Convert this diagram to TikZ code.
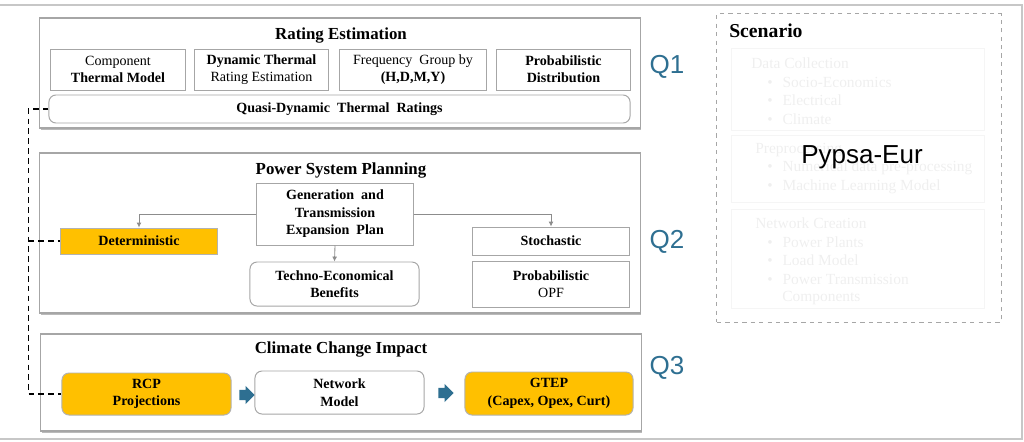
\documentclass[tikz,border=0pt]{standalone}
\usepackage{fontspec}
\setmainfont{Liberation Serif}
\newfontfamily\qfont{Liberation Sans}
\usepackage{tikz}
\usetikzlibrary{arrows.meta, positioning, shapes.arrows, shadows}

\definecolor{qblue}{HTML}{2E6F91}
\definecolor{amber}{HTML}{FFC000}
\definecolor{boxgray}{HTML}{A6A6A6}
\definecolor{faint}{HTML}{EFEFEF}

\tikzset{
  mainbox/.style={draw=boxgray, fill=white, line width=0.8pt, minimum width=15cm,
    drop shadow={shadow xshift=0.7pt, shadow yshift=-1.2pt, fill=black!45, opacity=0.6}},
  subbox/.style={draw=boxgray, fill=white, line width=0.7pt, align=center,
    font=\fontsize{10}{12.2}\selectfont, inner sep=1pt},
  roundbox/.style={subbox, rounded corners=5pt},
  orangebox/.style={subbox, fill=amber, draw=black!30},
  title/.style={font=\fontsize{12}{14}\selectfont\bfseries},
  qlabel/.style={font=\qfont\fontsize{18.5}{20}\selectfont, text=qblue},
  blockarrow/.style={single arrow, fill=qblue, draw=none, inner sep=0.12cm,
    minimum height=0.38cm, single arrow head extend=0.1cm, single arrow head indent=0pt},
  link/.style={draw=black!45, line width=0.6pt, -{Latex[length=3.5pt,width=3.5pt]}},
  faintbox/.style={draw=faint!60, line width=0.6pt, minimum width=6.325cm},
  fainttext/.style={text=faint, font=\fontsize{11}{13}\selectfont, anchor=west, inner sep=0pt}
}

\begin{document}
\begin{tikzpicture}[x=0.025cm, y=-0.025cm]
  \useasboundingbox (0,0) rectangle (1024,441);
  \draw[black!22, line width=1pt] (0,5) -- (1022,5) -- (1022,439) -- (0,439);

  % Q1: rating estimation
  \node[mainbox, minimum height=2.75cm] (rating) at (340,73) {};
  \node[title] (ratingt) at (341,36) {Rating Estimation};
  \node[subbox, minimum width=3.35cm, minimum height=1.025cm] (comp) at (118,69.5) {Component\\\textbf{Thermal Model}};
  \node[subbox, minimum width=3.325cm, minimum height=1.025cm] (dtr) at (261.5,69.5) {\textbf{Dynamic Thermal}\\Rating Estimation};
  \node[subbox, minimum width=3.65cm, minimum height=1.025cm] (freq) at (413,69.5) {Frequency\ \ Group by\\\textbf{(H,D,M,Y)}};
  \node[subbox, minimum width=3.325cm, minimum height=1.025cm] (prob) at (563.5,69.5) {\textbf{Probabilistic}\\\textbf{Distribution}};
  \node[roundbox, minimum width=14.525cm, minimum height=0.7cm] (qdtr) at (339.5,109) {\textbf{Quasi-Dynamic\ \ Thermal\ \ Ratings}};

  % Q2: planning
  \node[mainbox, minimum height=4cm] (plan) at (340,233) {};
  \node[title] (plant) at (341,171) {Power System Planning};
  \node[subbox, minimum width=3.9cm, minimum height=1.55cm, font=\fontsize{10}{12.4}\selectfont\bfseries] (gen) at (335,214) {Generation\ \ and\\Transmission\\Expansion\ \ Plan};
  \node[orangebox, minimum width=3.9cm, minimum height=0.65cm] (det) at (139,241) {\textbf{Deterministic}};
  \node[roundbox, minimum width=4.225cm, minimum height=1.1cm, font=\fontsize{10}{12.4}\selectfont\bfseries] (techno) at (334.5,284) {Techno-Economical\\Benefits};
  \node[subbox, minimum width=3.9cm, minimum height=0.7cm] (stoch) at (551,241) {\textbf{Stochastic}};
  \node[subbox, minimum width=3.9cm, minimum height=1.15cm] (popf) at (551,284) {\textbf{Probabilistic}\\OPF};
  \draw[link] (gen.west) -| (det.north);
  \draw[link] (gen.east) -| (stoch.north);
  \draw[link] (gen.south) -- (techno.north);

  % Q3: climate change
  \node[mainbox, minimum height=2.425cm] (clim) at (341,382.5) {};
  \node[title] (climt) at (341,350) {Climate Change Impact};
  \node[orangebox, rounded corners=5pt, minimum width=4.225cm, minimum height=1.05cm, font=\fontsize{10}{12.4}\selectfont\bfseries] (rcp) at (146.5,394) {RCP\\Projections};
  \node[roundbox, minimum width=4.225cm, minimum height=1.075cm, font=\fontsize{10}{12.4}\selectfont\bfseries] (net) at (339.5,392.5) {Network\\Model};
  \node[orangebox, rounded corners=5pt, minimum width=4.2cm, minimum height=1.075cm, font=\fontsize{10}{12.4}\selectfont\bfseries] (gtep) at (549,393.5) {GTEP\\(Capex, Opex, Curt)};
  \node[blockarrow] (arr1) at (244.5,395) {};
  \node[blockarrow] (arr2) at (443.5,393) {};

  % dashed feedback line
  \draw[dashed, dash pattern=on 4pt off 3pt, line width=0.8pt] (qdtr.west) -- ++(-20,0) coordinate (dtop) |- (rcp.west);
  \draw[dashed, dash pattern=on 4pt off 3pt, line width=0.8pt] (dtop |- det.west) -- (det.west);

  \node[qlabel] (q1) at (667,67) {Q1};
  \node[qlabel] (q2) at (667,242) {Q2};
  \node[qlabel] (q3) at (667,368) {Q3};

  % scenario panel
  \node[draw=black!35, dashed, line width=0.7pt, minimum width=7.1cm, minimum height=7.7cm] (scen) at (859,168) {};
  \node[font=\fontsize{14}{16}\selectfont\bfseries, anchor=west, inner sep=0pt] (scent) at (729,31) {Scenario};
  \node[faintbox, minimum height=2.05cm] (data) at (857.5,89) {};
  \node[faintbox, minimum height=1.675cm] (prep) at (857.5,168.5) {};
  \node[faintbox, minimum height=2.475cm] (netc) at (857.5,258.5) {};
  \node[fainttext] at (751,63) {Data Collection};
  \node[fainttext] at (767,82) {\textbullet\hspace{7pt}Socio-Economics};
  \node[fainttext] at (767,100) {\textbullet\hspace{7pt}Electrical};
  \node[fainttext] at (767,119) {\textbullet\hspace{7pt}Climate};
  \node[fainttext] at (755,150) {Preprocessing};
  \node[fainttext] at (767,168) {\textbullet\hspace{7pt}Numerical data pre-processing};
  \node[fainttext] at (767,187) {\textbullet\hspace{7pt}Machine Learning Model};
  \node[fainttext] at (755,223) {Network Creation};
  \node[fainttext] at (767,242) {\textbullet\hspace{7pt}Power Plants};
  \node[fainttext] at (767,260) {\textbullet\hspace{7pt}Load Model};
  \node[fainttext] at (767,279) {\textbullet\hspace{7pt}Power Transmission};
  \node[fainttext] at (782,298) {Components};
  \node[font=\qfont\fontsize{18.5}{20}\selectfont] (pypsa) at (862,157) {Pypsa-Eur};
\end{tikzpicture}
\end{document}
